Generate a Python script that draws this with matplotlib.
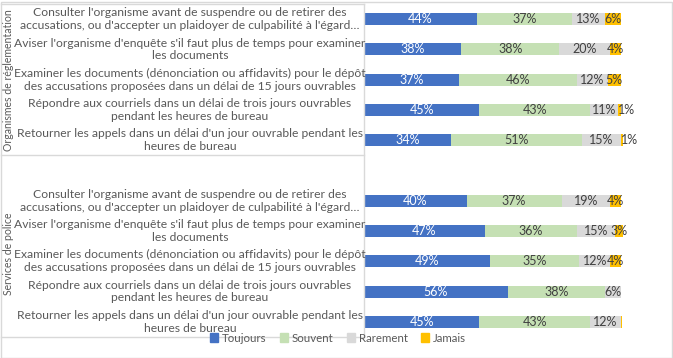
import matplotlib
matplotlib.use('Agg')
import matplotlib.pyplot as plt
from matplotlib.patches import Patch, Rectangle
from matplotlib.lines import Line2D
from matplotlib.transforms import blended_transform_factory

plt.rcParams['font.family'] = ['Lato', 'DejaVu Sans']

# Data
groups = ['Organismes de réglementation', 'Services de police']
tasks = [
    "Consulter l'organisme avant de suspendre ou de retirer des\naccusations, ou d'accepter un plaidoyer de culpabilité à l'égard…",
    "Aviser l'organisme d'enquête s'il faut plus de temps pour examiner\nles documents",
    "Examiner les documents (dénonciation ou affidavits) pour le dépôt\ndes accusations proposées dans un délai de 15 jours ouvrables",
    "Répondre aux courriels dans un délai de trois jours ouvrables\npendant les heures de bureau",
    "Retourner les appels dans un délai d'un jour ouvrable pendant les\nheures de bureau",
]
series = ['Toujours', 'Souvent', 'Rarement', 'Jamais']
colors = ['#4472C4', '#C5E0B4', '#D9D9D9', '#FFC000']

# values per group, per task: Toujours, Souvent, Rarement, Jamais (%)
reg_toujours = [44, 38, 37, 45, 34]
reg_souvent = [37, 38, 46, 43, 51]
reg_rarement = [13, 20, 12, 11, 15]
reg_jamais = [6, 4, 5, 1, 1]

pol_toujours = [40, 47, 49, 56, 45]
pol_souvent = [37, 36, 35, 38, 43]
pol_rarement = [19, 15, 12, 6, 12]
pol_jamais = [4, 3, 4, 0, 0.4]

# rows: group 1 (0-4), blank (5), group 2 (6-10)
rows_reg = [0, 1, 2, 3, 4]
rows_pol = [6, 7, 8, 9, 10]
ypos = rows_reg + rows_pol
data = [reg_toujours + pol_toujours,
        reg_souvent + pol_souvent,
        reg_rarement + pol_rarement,
        reg_jamais + pol_jamais]

W, H = 673, 358
fig = plt.figure(figsize=(W / 100, H / 100), dpi=100)
ax = fig.add_axes([364 / W, 1 - 337 / H, (668 - 364) / W, (337 - 4) / H])

left = [0.0] * len(ypos)
for name, vals, col in zip(series, data, colors):
    fr = [v / 100 for v in vals]
    ax.barh(ypos, fr, left=left, height=0.4, color=col, label=name)
    tcol = 'white' if col == '#4472C4' else '#404040'
    for y, l, w, v in zip(ypos, left, fr, vals):
        if v < 1:
            continue
        if v < 2:
            # tiny segment: label starts at the segment
            ax.text(l, y, f'{v:.0f}%', ha='left', va='center',
                    fontsize=9, color=tcol)
        else:
            ax.text(l + w / 2, y, f'{v:.0f}%', ha='center', va='center',
                    fontsize=9, color=tcol)
    left = [a + b for a, b in zip(left, fr)]

ax.set_xlim(0, 1.185)
ax.set_ylim(10.5, -0.5)
ax.set_xticks([])
ax.set_yticks([])
for s in ['top', 'right', 'bottom']:
    ax.spines[s].set_visible(False)
ax.spines['left'].set_color('#D9D9D9')
ax.spines['left'].set_linewidth(1)

# category labels
tr = blended_transform_factory(fig.transFigure, ax.transData)
for rows in (rows_reg, rows_pol):
    for r, t in zip(rows, tasks):
        ax.text(190 / W, r, t, transform=tr, ha='center', va='center',
                fontsize=8.7, color='#595959', linespacing=1.2, clip_on=False)

# group labels
ax.text(9 / W, 2.0, groups[0], transform=tr, rotation=90, ha='center',
        va='center', fontsize=7.6, color='#595959', clip_on=False)
ax.text(9 / W, 7.75, groups[1], transform=tr, rotation=90, ha='center',
        va='center', fontsize=7.6, color='#595959', clip_on=False)

# separator lines in label area
for yv in (-0.5, 4.5, 10.5):
    fig.add_artist(Line2D([1 / W, 364 / W], [yv, yv], transform=tr,
                          color='#D9D9D9', lw=1))

# outer border
fig.add_artist(Rectangle((0.5 / W, 0.5 / H), 1 - 1.5 / W, 1 - 2.5 / H,
                         transform=fig.transFigure, fill=False,
                         edgecolor='#D9D9D9', lw=1))

handles = [Patch(color=c, label=s) for s, c in zip(series, colors)]
fig.legend(handles=handles, loc='center', bbox_to_anchor=(338 / W, 1 - 338 / H),
           ncol=4, frameon=False, fontsize=8.3, handlelength=0.7,
           handleheight=0.7, handletextpad=0.3, columnspacing=1.2,
           labelcolor='#595959')

fig.savefig('out.png', dpi=100)
